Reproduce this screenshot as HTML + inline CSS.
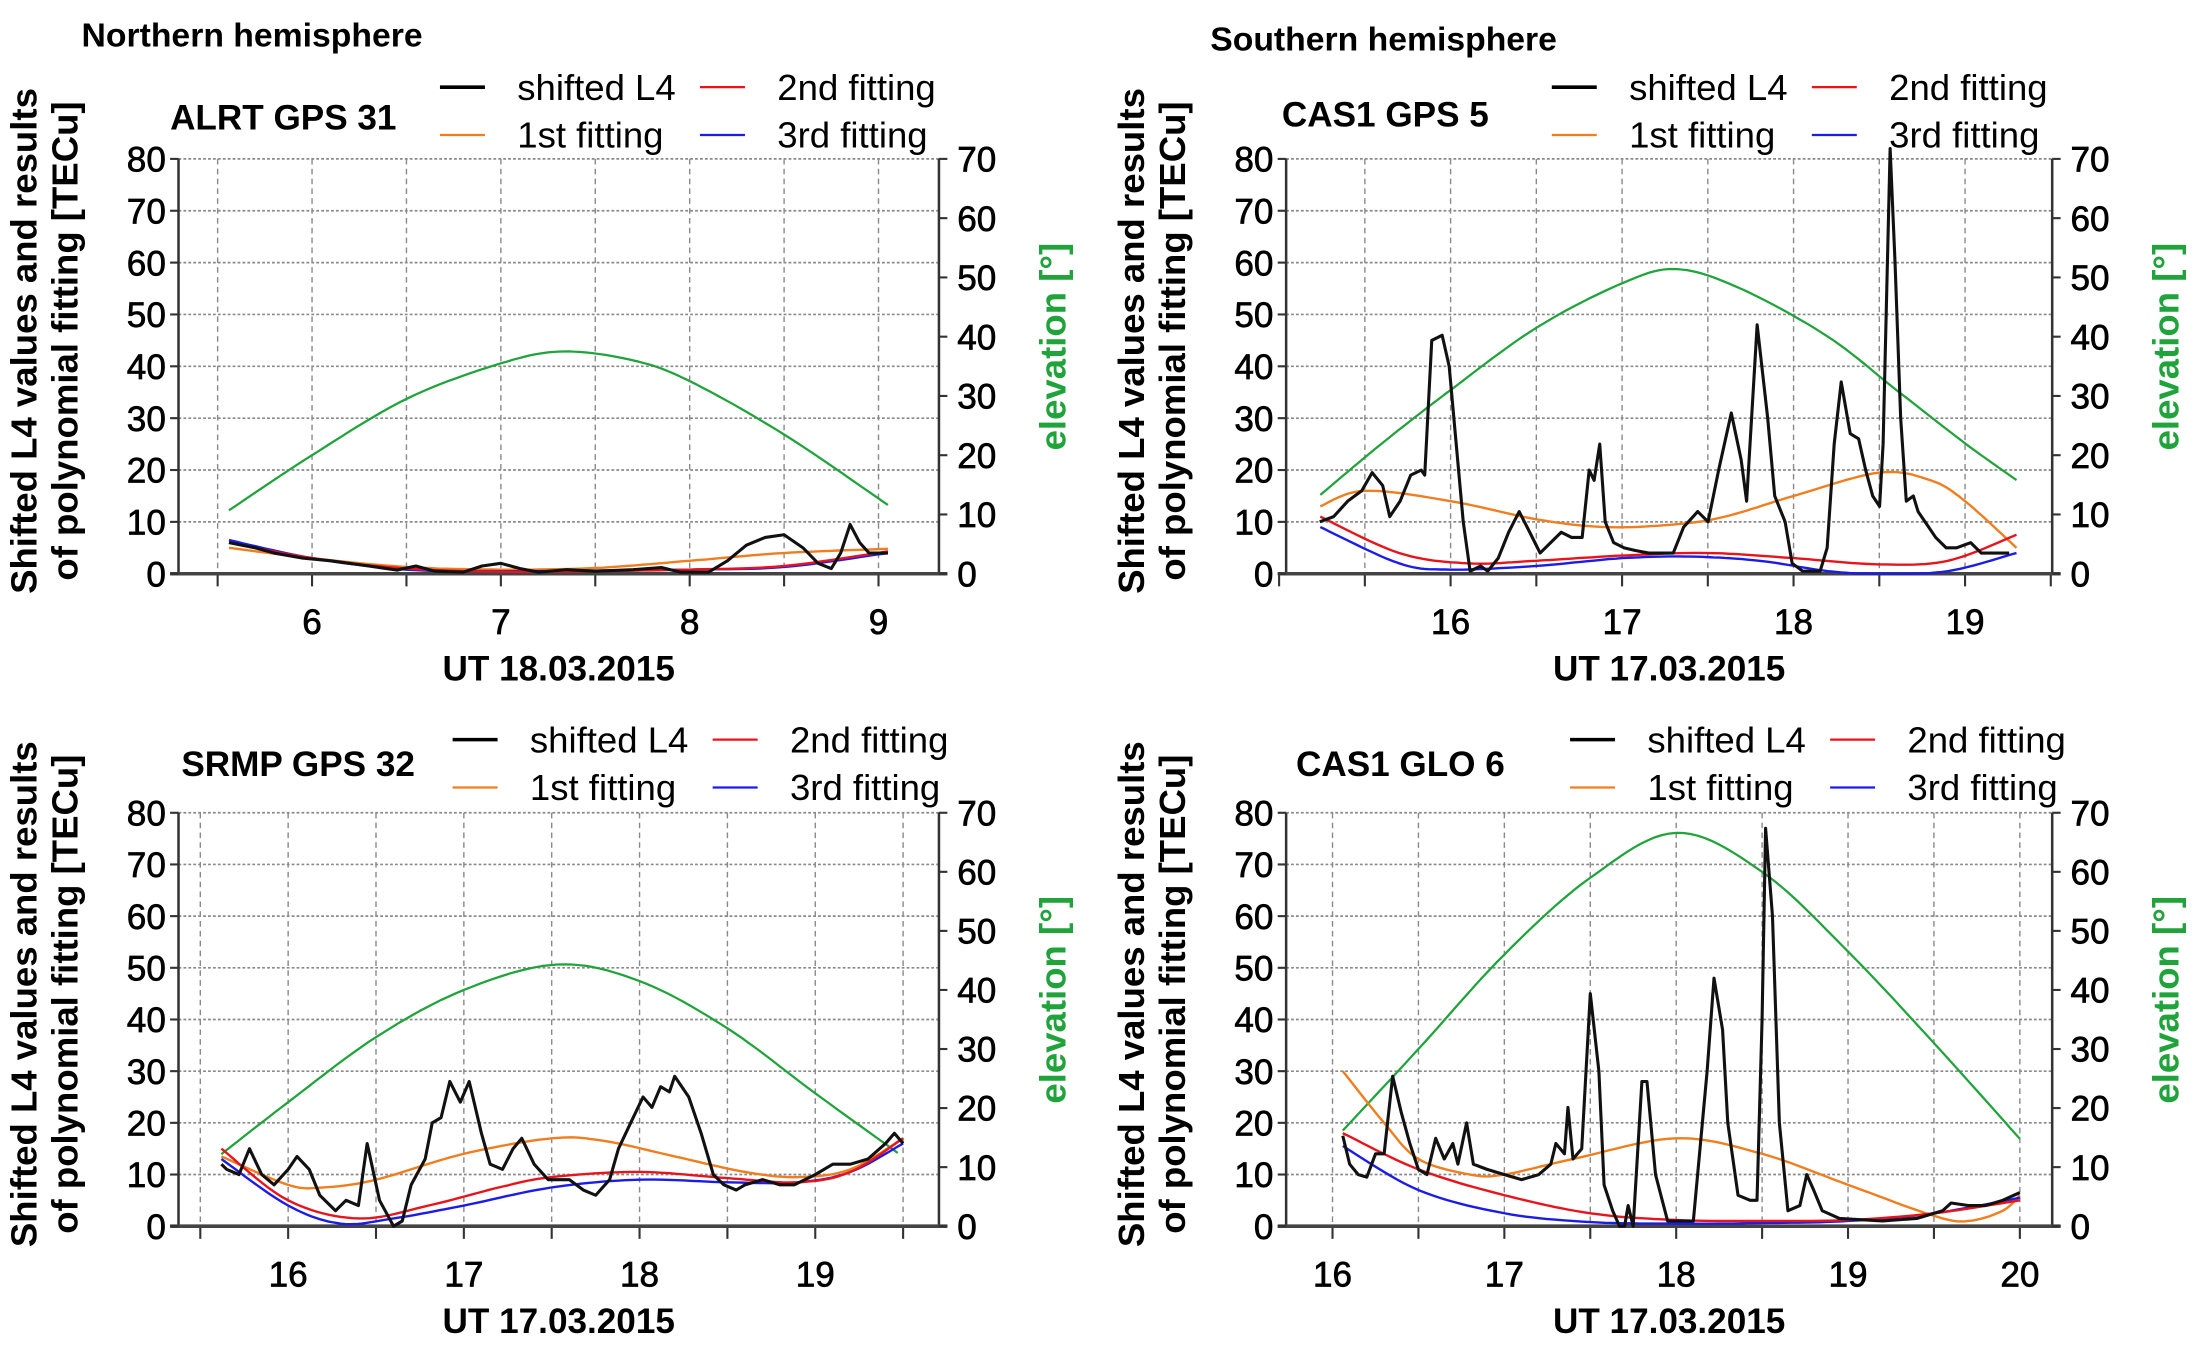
<!DOCTYPE html>
<html><head><meta charset="utf-8"><style>
html,body{margin:0;padding:0;background:#fff;}
svg{display:block;}
text{font-family:"Liberation Sans",Arial,sans-serif;}
</style></head><body>
<svg id="s" width="2204" height="1364" viewBox="0 0 1568 970" preserveAspectRatio="none" xmlns="http://www.w3.org/2000/svg"></svg>
<script>
const S=document.getElementById('s');
let out='';
function cr(pts,n){
  const r=[];
  for(let i=0;i<pts.length-1;i++){
    const p0=pts[Math.max(0,i-1)],p1=pts[i],p2=pts[i+1],p3=pts[Math.min(pts.length-1,i+2)];
    for(let k=0;k<n;k++){const t=k/n,t2=t*t,t3=t2*t;
      const f=(a,b,c,d)=>0.5*((2*b)+(-a+c)*t+(2*a-5*b+4*c-d)*t2+(-a+3*b-3*c+d)*t3);
      r.push([f(p0[0],p1[0],p2[0],p3[0]),f(p0[1],p1[1],p2[1],p3[1])]);}
  }
  r.push(pts[pts.length-1]);return r;
}
const TK='font-size="25" stroke="#000" stroke-width="0.5"';
function panel(P){
  const hx=h=>P.ax+(h-P.ha)*(P.bx-P.ax)/(P.hb-P.ha);
  const yl=v=>P.yb-(v/80)*(P.yb-P.yt);
  const yr=v=>P.yb-(v/70)*(P.yb-P.yt);
  for(let v=10;v<=80;v+=10) out+=`<line x1="${P.l}" x2="${P.r}" y1="${yl(v)}" y2="${yl(v)}" stroke="#8a8a8a" stroke-width="1.2" stroke-dasharray="2,1.5"/>`;
  for(let h=Math.ceil(P.h0*2)/2;h<=P.h1+1e-6;h+=0.5){const x=hx(h);
    if(x>P.l+3&&x<P.r-3) out+=`<line x1="${x}" x2="${x}" y1="${P.yt}" y2="${P.yb}" stroke="#8a8a8a" stroke-width="1" stroke-dasharray="4,3"/>`;
    out+=`<line x1="${x}" x2="${x}" y1="${P.yb}" y2="${P.yb+9}" stroke="#333" stroke-width="1.5"/>`;}
  out+=`<line x1="${P.l}" x2="${P.l}" y1="${P.yt}" y2="${P.yb}" stroke="#333" stroke-width="1.8"/>`;
  out+=`<line x1="${P.r}" x2="${P.r}" y1="${P.yt}" y2="${P.yb}" stroke="#333" stroke-width="1.8"/>`;
  out+=`<line x1="${P.l-6}" x2="${P.r+6}" y1="${P.yb}" y2="${P.yb}" stroke="#444" stroke-width="2.5"/>`;
  for(let v=0;v<=80;v+=10){out+=`<line x1="${P.l-6}" x2="${P.l}" y1="${yl(v)}" y2="${yl(v)}" stroke="#333" stroke-width="1.5"/>`;
    out+=`<text x="${P.l-9}" y="${yl(v)+9}" ${TK} text-anchor="end">${v}</text>`;}
  for(let v=0;v<=70;v+=10){out+=`<line x1="${P.r}" x2="${P.r+6}" y1="${yr(v)}" y2="${yr(v)}" stroke="#333" stroke-width="1.5"/>`;
    out+=`<text x="${P.r+13}" y="${yr(v)+9}" ${TK}>${v}</text>`;}
  for(const h of P.lab) out+=`<text x="${hx(h)}" y="${P.yb+43}" ${TK} text-anchor="middle">${h}</text>`;
  const cx=(P.l+P.r)/2, cy=(P.yt+P.yb)/2-18;
  out+=`<text x="${cx}" y="${P.yb+76}" font-size="25" font-weight="bold" text-anchor="middle">${P.xt}</text>`;
  out+=`<text transform="translate(${P.l-101},${cy}) rotate(-90)" font-size="26" font-weight="bold" text-anchor="middle">Shifted L4 values and results</text>`;
  out+=`<text transform="translate(${P.l-72},${cy}) rotate(-90)" font-size="26" font-weight="bold" text-anchor="middle">of polynomial fitting [TECu]</text>`;
  out+=`<text transform="translate(${P.r+90},${cy+4}) rotate(-90)" font-size="26" font-weight="bold" fill="#1fa33a" text-anchor="middle">elevation [°]</text>`;
  out+=`<text x="${P.nx}" y="${P.ny}" font-size="25" font-weight="bold">${P.name}</text>`;
  const L=P.lx, Ly=P.ly;
  const leg=[[L,Ly,'#000','shifted L4'],[L+185,Ly,'#e8141c','2nd fitting'],[L,Ly+34,'#f07d1e','1st fitting'],[L+185,Ly+34,'#1c1ce8','3rd fitting']];
  for(const [x,y,c,t] of leg){out+=`<line x1="${x}" x2="${x+32}" y1="${y}" y2="${y}" stroke="${c}" stroke-width="${c=='#000'?2.5:1.6}"/>`;
    out+=`<text x="${x+55}" y="${y+9}" font-size="26">${t}</text>`;}
  const pl=(pts,c,w,fy)=>{out+=`<polyline fill="none" stroke="${c}" stroke-width="${w}" stroke-linejoin="round" points="${pts.map(p=>hx(p[0]).toFixed(1)+','+fy(p[1]).toFixed(1)).join(' ')}"/>`;};
  pl(cr(P.el,12),'#1fa33a',1.6,yr);
  pl(cr(P.o,12),'#f07d1e',1.7,yl);
  pl(cr(P.bl,12),'#1c1ce8',1.7,yl);
  pl(cr(P.re,12),'#e8141c',1.7,yl);
  pl(P.k,'#111',2.2,yl);
}
const A=a=>{const r=[];for(let i=0;i<a.length;i+=2)r.push([a[i],a[i+1]]);return r;};
panel({l:127,r:668,yt:113,yb:408,ha:6,hb:9,ax:222,bx:625,h0:5.5,h1:9.3,lab:[6,7,8,9],xt:'UT 18.03.2015',name:'ALRT GPS 31',nx:121,ny:92,lx:313,ly:62,
 el:A([5.56,10.7,6,20,6.5,29.5,7,35.5,7.33,37.5,7.7,36,8,32.5,8.5,23.5,9.05,11.6]),
 o:A([5.56,5,6,3,6.5,1.3,7,0.8,7.5,1.1,8,2.5,8.5,4,9.05,4.8]),
 re:A([5.56,6,6,3,6.5,1,7,0.4,7.5,0.5,8,0.8,8.5,1.5,9.05,4.3]),
 bl:A([5.56,6.5,6,3,6.5,0.8,7,0.5,7.5,0.6,8,0.8,8.5,1.3,9.05,4]),
 k:A([5.56,6,5.7,5,5.8,4,5.95,3,6.1,2.5,6.3,1.5,6.45,0.7,6.55,1.5,6.65,0.5,6.8,0.3,6.9,1.5,7.0,2,7.1,1,7.2,0.3,7.35,0.8,7.5,0.5,7.7,0.8,7.85,1.2,7.95,0.3,8.1,0.3,8.2,2.5,8.3,5.5,8.4,7,8.5,7.5,8.6,5,8.68,2,8.75,1,8.8,4,8.85,9.5,8.9,6,8.95,4,9.05,4])});
panel({l:915,r:1460,yt:113,yb:408,ha:16,hb:19,ax:1032,bx:1398,h0:15.0,h1:19.5,lab:[16,17,18,19],xt:'UT 17.03.2015',name:'CAS1 GPS 5',nx:912,ny:90,lx:1104,ly:62,
 el:A([15.24,13.3,15.6,22,16,31,16.5,41.5,17,49,17.32,51.4,17.7,48,18.2,40,18.6,31,19,22,19.3,15.8]),
 o:A([15.24,13,15.5,16,16,14,16.5,10.5,16.9,9,17.3,9.5,17.6,11,18,15,18.5,19.5,18.8,18,19.0,14,19.3,5]),
 re:A([15.24,11,15.7,4,16.1,2,16.5,2.5,17,3.5,17.5,4,18,3,18.5,1.8,18.9,2.5,19.3,7.5]),
 bl:A([15.24,9,15.7,2,16,0.8,16.5,1.5,17,3,17.4,3.3,17.8,2.5,18.2,0.5,18.5,0,18.9,0.5,19.3,4]),
 k:(()=>{const z=[310,10,330,11,350,14,370,16,385,19.5,400,17,410,11,425,14,440,19,455,20,460,19,470,45,485,46,495,40,505,25,515,10,525,0.5,540,1.5,550,0.5,565,3,580,8,595,12,610,8,625,4,640,6,655,8,670,7,685,7,695,20,702,18,710,25,718,10,730,6,745,5,760,4.5,780,4,800,4,815,4,830,9,850,12,865,10,880,20,898,31,912,22,920,14,935,48,950,30,960,15,975,10,985,2,1000,0.5,1025,0.5,1035,5,1045,25,1055,37,1068,27,1080,26,1090,20,1100,15,1110,13,1115,25,1125,82,1132,60,1140,30,1148,14,1158,15,1165,12,1175,10,1190,7,1205,5,1220,5,1240,6,1255,4,1275,4,1295,4];
   const r=[];for(let i=0;i<z.length;i+=2)r.push([16+(z[i]-497)/245,z[i+1]]);return r;})()});
panel({l:127,r:668,yt:578,yb:872,ha:16,hb:19,ax:205,bx:580,h0:15.5,h1:19.5,lab:[16,17,18,19],xt:'UT 17.03.2015',name:'SRMP GPS 32',nx:129,ny:552,lx:322,ly:526,
 el:A([15.62,12.2,16,21,16.5,32,17,40,17.53,44.3,18,41.5,18.5,33.5,19,22.5,19.47,12.4]),
 o:A([15.62,13.5,16,8,16.2,7.5,16.5,9,17,14,17.5,17,17.8,16.5,18.2,13.5,18.6,10.5,18.9,9.5,19.2,11,19.5,17]),
 re:A([15.62,15,16,5,16.4,1.5,16.8,4,17.2,7.5,17.5,9.5,18,10.5,18.5,9.3,18.9,8.5,19.2,10.5,19.5,17]),
 bl:A([15.62,13,16,4,16.3,0.5,16.6,1.5,17,4,17.5,7.5,18,9,18.5,8.5,18.9,8.5,19.2,10.5,19.5,16]),
 k:A([15.62,12,15.65,11,15.72,10,15.78,15,15.85,10,15.92,8,16.0,11,16.05,13.5,16.12,11,16.18,6,16.27,3,16.33,5,16.4,4,16.45,16,16.52,5,16.6,0,16.65,1,16.7,8,16.78,13,16.82,20,16.87,21,16.92,28,16.98,24,17.03,28,17.1,18,17.15,12,17.22,11,17.28,15,17.33,17,17.4,12,17.48,9,17.6,9,17.68,7,17.75,6,17.83,9,17.88,15,17.95,20,18.02,25,18.07,23,18.12,27,18.17,26,18.2,29,18.28,25,18.35,18,18.42,10,18.48,8,18.55,7,18.6,8,18.7,9,18.8,8,18.88,8,19.0,10,19.1,12,19.2,12,19.3,13,19.4,16,19.45,18,19.5,16])});
panel({l:915,r:1460,yt:578,yb:872,ha:16,hb:20,ax:948,bx:1437,h0:16,h1:20.1,lab:[16,17,18,19,20],xt:'UT 17.03.2015',name:'CAS1 GLO 6',nx:922,ny:552,lx:1117,ly:526,
 el:A([16.06,16.2,16.5,30,17,46,17.5,59,18,66.6,18.5,60,19,46.5,19.5,31,20,14.8]),
 o:A([16.06,30,16.3,20,16.5,13,16.8,10,17,10,17.4,13,18,17,18.5,14,19,8,19.5,2,19.7,1,19.9,3,20.0,6]),
 re:A([16.06,18,16.5,11,17,6,17.5,2.5,18,1.2,18.5,1,19,1.2,19.5,2.5,20,5]),
 bl:A([16.06,15.5,16.5,7,17,2.5,17.5,0.8,18,0.5,18.5,0.6,19,1,19.5,2.5,20,5.5]),
 k:A([16.06,17.5,16.1,12,16.15,10,16.2,9.5,16.25,14,16.3,14,16.35,29,16.4,22,16.45,16,16.5,11,16.55,10,16.6,17,16.65,13,16.7,16,16.73,12,16.78,20,16.82,12,16.9,11,17.0,10,17.1,9,17.2,10,17.27,12,17.3,16,17.35,14,17.37,23,17.4,13,17.45,15,17.5,45,17.55,30,17.58,8,17.63,3,17.67,0,17.7,0,17.72,4,17.75,0,17.8,28,17.83,28,17.88,10,17.95,1,18.1,1,18.18,30,18.22,48,18.27,38,18.3,20,18.36,6,18.43,5,18.47,5,18.5,40,18.52,77,18.56,60,18.6,20,18.65,3,18.72,4,18.76,10,18.8,7,18.85,3,18.95,1.5,19.2,1,19.4,1.5,19.55,3,19.6,4.5,19.7,4,19.8,4,19.9,5,20.0,6.5])});
out+=`<text x="58" y="33" font-size="24" font-weight="bold">Northern hemisphere</text>`;
out+=`<text x="861" y="36" font-size="24" font-weight="bold">Southern hemisphere</text>`;
S.innerHTML=out;
</script>
</body></html>
